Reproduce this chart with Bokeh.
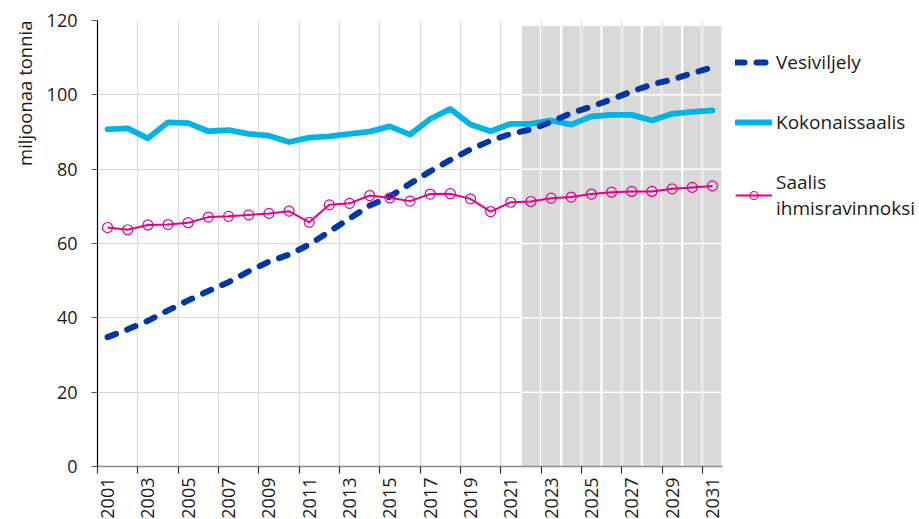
from math import pi
from bokeh.plotting import figure
from bokeh.models import Range1d, FixedTicker, Legend, LegendItem, Title
from bokeh.embed import file_html
from bokeh.resources import INLINE

# ---- data ----
years = list(range(2001, 2032))
vesiviljely = [34.8, 36.9, 39.2, 42.0, 44.7, 47.2, 49.6, 52.5, 55.1, 57.0, 59.7, 63.2,
               66.7, 70.2, 72.6, 76.1, 79.4, 82.5, 85.3, 87.7, 89.5,
               90.7, 92.7, 95.1, 96.8, 98.8, 100.9, 102.8, 104.1, 105.8, 107.4]
kokonaissaalis = [90.7, 91.0, 88.3, 92.6, 92.4, 90.2, 90.5, 89.5, 89.0, 87.3, 88.5, 88.8,
                  89.5, 90.1, 91.5, 89.3, 93.5, 96.2, 92.0, 90.2, 92.2,
                  92.2, 93.1, 92.0, 94.2, 94.6, 94.6, 93.1, 94.9, 95.4, 95.8]
saalis_ihmisravinnoksi = [64.3, 63.7, 65.0, 65.1, 65.6, 67.1, 67.3, 67.7, 68.1, 68.7, 65.7, 70.4,
                          70.8, 72.9, 72.3, 71.4, 73.3, 73.4, 72.0, 68.6, 71.1,
                          71.3, 72.2, 72.5, 73.3, 73.8, 74.0, 74.0, 74.7, 75.1, 75.5]
forecast_start = 2022
forecast_shade_top = 118.5
y_ticks = [0, 20, 40, 60, 80, 100, 120]
label_years = years[::2]

forecast_years = [y for y in years if y >= forecast_start]
band_edges = [y - 0.5 for y in label_years]

FONT = "Open Sans"
TXT = "#1a1a1a"

p = figure(frame_width=625, frame_height=446,
           min_border_left=97, min_border_right=197, min_border_top=20, min_border_bottom=53,
           x_range=Range1d(years[0] - 0.5, years[-1] + 0.5), y_range=Range1d(y_ticks[0], y_ticks[-1]),
           output_backend="svg", toolbar_location=None)
p.outline_line_color = None
p.background_fill_color = "white"
p.border_fill_color = "white"

# grid
p.xgrid.ticker = FixedTicker(ticks=band_edges)
p.ygrid.ticker = FixedTicker(ticks=y_ticks)
p.xgrid.grid_line_color = "#d9d9d9"
p.ygrid.grid_line_color = "#d9d9d9"
p.xgrid.grid_line_width = 1.2
p.ygrid.grid_line_width = 1.2

# forecast shading
p.vbar(x=forecast_years, top=forecast_shade_top, width=0.88, color="#d9d9d9", line_color=None)
for t in y_ticks[1:-1]:
    p.segment(x0=forecast_years[0] - 0.5, x1=forecast_years[-1] + 0.5, y0=t, y1=t,
              line_color="white", line_width=1.5)

# series
r_k = p.line(years, kokonaissaalis, line_color="#00B4E4", line_width=5.8, line_join="round", line_cap="round")
r_v = p.line(years, vesiviljely, line_color="#0036A5", line_width=6, line_dash="9 12", line_cap="round")
r_s = p.line(years, saalis_ihmisravinnoksi, line_color="#E5008A", line_width=2)
r_sm = p.scatter(years, saalis_ihmisravinnoksi, marker="circle", size=10, fill_color=None,
                 line_color="#E5008A", line_width=1.2)

# x axis: labels at band centres, tick marks (minor) at band edges
ax = p.xaxis[0]
ax.ticker = FixedTicker(ticks=label_years, minor_ticks=band_edges)
ax.major_tick_in = 0
ax.major_tick_out = 0
ax.minor_tick_in = 0
ax.minor_tick_out = 7
ax.minor_tick_line_color = "#333333"
ax.minor_tick_line_width = 1.2
ax.axis_line_color = "#8c8c8c"
ax.axis_line_width = 1.5
ax.major_label_orientation = pi / 2
ax.major_label_standoff = 4
ax.major_label_text_font = FONT
ax.major_label_text_font_size = "18px"
ax.major_label_text_color = TXT

# y axis
ay = p.yaxis[0]
ay.ticker = FixedTicker(ticks=y_ticks)
ay.major_tick_in = 0
ay.major_tick_out = 6
ay.major_tick_line_color = "#555555"
ay.minor_tick_line_color = None
ay.axis_line_color = "black"
ay.axis_line_width = 1.2
ay.major_label_text_font = FONT
ay.major_label_text_font_size = "18px"
ay.major_label_text_color = TXT
ay.major_label_standoff = 14

p.add_layout(Title(text="miljoonaa tonnia", align="right", text_font=FONT,
                   text_font_size="18.5px", text_font_style="normal", text_color=TXT,
                   standoff=14), "left")

legend = Legend(items=[LegendItem(label="Vesiviljely", renderers=[r_v]),
                       LegendItem(label="Kokonaissaalis", renderers=[r_k]),
                       LegendItem(label="Saalis\nihmisravinnoksi", renderers=[r_s, r_sm])],
                location=(13, 245), orientation="vertical",
                border_line_color=None, background_fill_alpha=0,
                padding=0, margin=0, spacing=34,
                glyph_width=37, glyph_height=20, label_height=20, label_standoff=4,
                label_text_font=FONT, label_text_font_size="19px", label_text_color=TXT)
p.add_layout(legend, "right")

open("out.html", "w").write(file_html(p, INLINE))
